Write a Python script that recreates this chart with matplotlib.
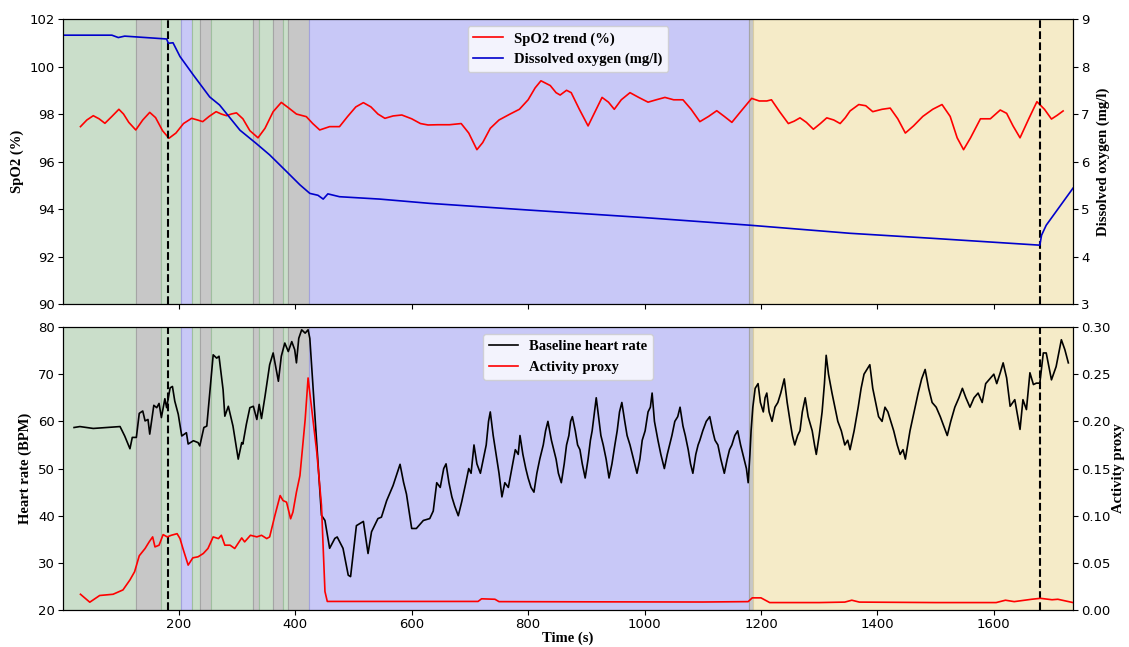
import numpy as np
import matplotlib
matplotlib.use('Agg')
import matplotlib.pyplot as plt

# SpO2 trend (left axis, top)
spo2_t = [31, 42, 53, 63, 73, 85, 97, 105, 114, 126, 138, 150, 160, 172, 183, 195, 208, 222, 232,
          241, 252, 264, 273, 282, 290, 299, 310, 322, 336, 348, 362, 376, 389, 402, 419, 430, 442,
          459, 476, 490, 504, 517, 530, 542, 554, 568, 583, 600, 615, 628, 645, 665, 685, 698, 712,
          722, 735, 750, 769, 785, 800, 812, 822, 838, 848, 855, 866, 874, 888, 903, 915, 927, 938,
          948, 960, 975, 990, 1006, 1020, 1035, 1050, 1066, 1080, 1095, 1110, 1124, 1137, 1150,
          1165, 1184, 1197, 1210, 1218, 1232, 1247, 1257, 1267, 1278, 1290, 1302, 1313, 1325, 1336,
          1345, 1353, 1368, 1380, 1392, 1408, 1422, 1435, 1448, 1462, 1478, 1495, 1511, 1525, 1537,
          1548, 1560, 1577, 1594, 1611, 1622, 1633, 1645, 1660, 1674, 1687, 1699, 1709, 1719]
spo2_v = [97.47, 97.75, 97.93, 97.8, 97.61, 97.9, 98.2, 98.0, 97.65, 97.33, 97.75, 98.07, 97.85,
          97.3, 96.98, 97.2, 97.6, 97.82, 97.75, 97.68, 97.9, 98.1, 98.0, 97.93, 98.0, 98.05, 97.8,
          97.3, 97.0, 97.4, 98.1, 98.49, 98.25, 98.0, 97.89, 97.6, 97.33, 97.47, 97.47, 97.9, 98.3,
          98.48, 98.3, 98.0, 97.82, 97.92, 97.96, 97.8, 97.6, 97.54, 97.55, 97.55, 97.6, 97.2, 96.5,
          96.8, 97.4, 97.75, 98.0, 98.2, 98.6, 99.1, 99.4, 99.2, 98.9, 98.8, 99.0, 98.9, 98.2, 97.5,
          98.1, 98.7, 98.5, 98.2, 98.6, 98.9, 98.7, 98.5, 98.6, 98.7, 98.6, 98.6, 98.2, 97.68, 97.9,
          98.14, 97.9, 97.65, 98.1, 98.66, 98.55, 98.55, 98.6, 98.1, 97.6, 97.7, 97.84, 97.65,
          97.36, 97.6, 97.84, 97.75, 97.6, 97.85, 98.13, 98.4, 98.35, 98.1, 98.2, 98.25, 97.8,
          97.2, 97.5, 97.9, 98.2, 98.4, 97.9, 97.0, 96.5, 97.0, 97.8, 97.8, 98.17, 98.03, 97.5,
          97.0, 97.8, 98.52, 98.2, 97.79, 97.95, 98.13]

# dissolved oxygen (right axis, top)
do_t = [1, 85, 96, 107, 167, 179, 182, 190, 202, 225, 253, 270, 305, 333, 356, 385, 408, 425,
        439, 448, 456, 476, 545, 631, 800, 1000, 1181, 1353, 1500, 1679, 1682, 1690, 1736]
do_v = [8.66, 8.66, 8.61, 8.64, 8.59, 8.58, 8.49, 8.50, 8.21, 7.82, 7.36, 7.19, 6.66, 6.38, 6.14,
        5.79, 5.51, 5.33, 5.29, 5.21, 5.32, 5.26, 5.21, 5.12, 4.98, 4.82, 4.66, 4.49, 4.38, 4.24,
        4.45, 4.66, 5.44]

# baseline heart rate (left axis, bottom)
hr_t = [20, 30, 53, 99, 107, 116, 120, 127, 132, 138, 142, 147, 150, 157, 162, 166, 170, 176,
        179, 185, 189, 193, 199, 205, 213, 216, 225, 233, 236, 243, 248, 259, 265, 269, 276, 279,
        285, 293, 302, 308, 310, 316, 322, 328, 334, 338, 342, 348, 356, 362, 371, 376, 382, 388,
        394, 399, 402, 406, 411, 417, 422, 425, 445, 451, 459, 468, 472, 482, 491, 495, 505, 517,
        525, 531, 542, 548, 557, 568, 580, 586, 591, 600, 608, 620,
        631, 637, 643, 649, 655, 659, 664, 669, 674, 680, 686, 693, 698, 702, 707, 712, 718, 723,
        728, 732, 735, 740, 745, 750, 755, 760, 766, 772, 778, 783, 786, 791, 796, 800, 805, 810,
        815, 820, 826, 830, 834, 840, 844, 848, 852, 857, 862, 866, 870, 873, 876, 881, 885, 889,
        893, 898, 903, 907, 910, 914, 917, 921, 925, 929, 934, 939, 944, 949, 953, 957, 961, 966,
        970, 975, 981, 987, 992, 996, 1001, 1006, 1010, 1013, 1017, 1020, 1023, 1028, 1034, 1039,
        1043, 1047, 1052, 1057, 1061, 1066, 1070, 1075, 1079, 1083, 1088, 1092, 1095, 1100, 1106,
        1112, 1117, 1121, 1126, 1131, 1137, 1142, 1146, 1150, 1155, 1160, 1165, 1171, 1175, 1178,
        1181, 1183,
        1186, 1190, 1195, 1199, 1204, 1207, 1210, 1214, 1219, 1224, 1229, 1234, 1240, 1245, 1250,
        1254, 1258, 1263, 1267, 1271, 1276, 1281, 1288, 1292, 1295, 1300, 1305, 1309, 1312, 1316,
        1322, 1327, 1332, 1338, 1344, 1349, 1353, 1360, 1367, 1372, 1377, 1382, 1387, 1392, 1397,
        1402, 1408, 1413, 1418, 1423, 1428, 1434, 1439, 1444, 1448, 1452, 1456, 1463, 1470, 1476,
        1482, 1488, 1494, 1501, 1508, 1514, 1520, 1526, 1533, 1540, 1546, 1552, 1559, 1566, 1573,
        1580, 1586, 1593, 1600, 1605,
        1611, 1616, 1622, 1628, 1636, 1642, 1645, 1650, 1656, 1662, 1668, 1673, 1679, 1685, 1690,
        1699, 1707, 1716, 1722, 1728]
hr_v = [58.7, 58.9, 58.5, 58.9, 56.9, 54.2, 56.6, 56.6, 61.7, 62.2, 60.1, 60.4, 57.3, 63.4, 62.9,
        63.8, 60.8, 64.8, 62.9, 67.1, 67.4, 64.3, 61.5, 56.9, 57.6, 55.2, 55.9, 55.5, 54.8, 58.7,
        59.0, 74.1, 73.4, 73.8, 66.7, 61.1, 63.2, 59.0, 52.0, 55.5, 55.2, 59.4, 62.9, 63.2, 60.4,
        63.6, 60.6, 65.3, 72.0, 74.5, 68.5, 73.8, 76.6, 74.8, 76.9, 75.2, 72.4, 77.6, 79.4, 78.7,
        79.4, 77.6, 40.1, 39.0, 33.1, 35.2, 35.5, 33.1, 27.4, 27.1, 37.9, 38.8, 32.0, 36.6, 39.4,
        39.7, 43.2, 46.4, 50.9, 47.1, 44.6, 37.3, 37.3, 39.0,
        39.4, 41, 47, 46, 50, 51, 47, 44, 42, 40, 43, 47, 50, 49, 55, 51, 49, 52, 55, 60, 62, 57, 53,
        49, 44, 47, 46, 50, 54, 53, 57, 53, 50, 48, 46, 45, 49, 52, 55, 58, 60, 56, 54, 52, 49, 47,
        51, 55, 57, 60, 61, 58, 55, 54, 51, 48, 52, 56, 58, 62, 65, 61, 57, 55, 52, 48, 51, 55, 58,
        62, 64, 60, 57, 55, 52, 49, 52, 56, 58, 62, 63, 66, 60, 58, 56, 53, 50, 53, 55, 57, 60, 61,
        63, 59, 57, 54, 51, 49, 53, 55, 56, 58, 60, 61, 58, 56, 55, 52, 49, 52, 54, 55, 57, 58, 55,
        52, 50, 47, 53, 58,
        63, 67, 68, 64, 62, 65, 66, 62, 60, 63, 64, 66, 69, 64, 60, 57, 55, 57, 58, 62, 65, 61, 58,
        55, 53, 57, 62, 68, 74, 70, 66, 63, 60, 58, 55, 56, 54, 58, 63, 67, 70, 71, 72, 67, 64, 61,
        60, 63, 62, 60, 58, 55, 53, 54, 52, 55, 58, 62, 66, 69, 71, 67, 64, 63, 61, 59, 57, 60, 63,
        65, 67, 65, 63, 65, 66, 64, 68, 69, 70, 68,
        70.3, 72.4, 69.2, 63.2, 64.6, 60.4, 58.3, 64.6, 62.5, 70.3, 67.8, 68.1, 68.1, 74.5, 74.5,
        68.8, 71.6, 77.3, 75.2, 72.4]

# activity proxy (right axis, bottom)
act_t = [31, 47, 64, 87, 104, 116, 124, 132, 142, 149, 155, 159, 166, 173, 180, 187, 197, 202,
         207, 216, 224, 233, 242, 250, 259, 268, 273, 279, 288, 296, 308, 313, 323, 334, 342, 351,
         356, 365, 374, 379, 385, 392, 396, 402, 408, 417, 422, 437, 445, 451, 455, 600, 714, 720,
         743, 750, 900, 1100, 1178, 1185, 1200, 1215, 1300, 1344, 1356, 1369, 1500, 1604, 1620,
         1635, 1665, 1680, 1700, 1710, 1736]
act_v = [0.0168, 0.0084, 0.0155, 0.0168, 0.0214, 0.032, 0.0407, 0.0576, 0.0653, 0.0723, 0.0776,
         0.067, 0.0688, 0.08, 0.0776, 0.0793, 0.081, 0.0758, 0.0653, 0.0477, 0.0554, 0.0565, 0.06,
         0.0653, 0.0776, 0.0758, 0.0793, 0.0688, 0.0688, 0.0653, 0.0765, 0.0723, 0.0793, 0.0776,
         0.0793, 0.0758, 0.0776, 0.1003, 0.1214, 0.1161, 0.1144, 0.0968, 0.1039, 0.125, 0.1425,
         0.202, 0.246, 0.167, 0.111, 0.0197, 0.0092, 0.0092, 0.0092, 0.012, 0.0115, 0.009, 0.0088,
         0.0086, 0.009, 0.013, 0.013, 0.008, 0.008, 0.0085, 0.0105, 0.0085, 0.008, 0.008, 0.0105,
         0.009, 0.0115, 0.0125, 0.011, 0.0115, 0.008]

# behavioural segments (start, end, state)
seg_start = [0, 126, 170, 203, 223, 236, 255, 328, 337, 361, 379, 387, 424, 1180, 1187]
seg_end = [126, 170, 203, 223, 236, 255, 328, 337, 361, 379, 387, 424, 1180, 1187, 1736]
seg_state = ['g', 'k', 'g', 'b', 'g', 'k', 'g', 'k', 'g', 'k', 'g', 'k', 'b', 'k', 'y']
events = [181, 1679]

face = {'g': '#cadeca', 'k': '#c7c7c7', 'b': '#c8c8f7', 'y': '#f5ebc8'}
edge = {'g': '#9fbf9f', 'k': '#a5a5a5', 'b': '#a2a2dc', 'y': '#d9cda3'}

plt.rcParams['font.family'] = 'DejaVu Sans'
lab = {'family': 'Liberation Serif', 'weight': 'bold', 'size': 10.5}
leg = {'family': 'Liberation Serif', 'weight': 'bold', 'size': 10.5}

fig = plt.figure(figsize=(11.29, 6.47), dpi=100)
ax1 = fig.add_axes([0.0558, 0.530, 0.8946, 0.4406])
ax2 = fig.add_axes([0.0558, 0.057, 0.8946, 0.4376], sharex=ax1)

for ax in [ax1, ax2]:
    for s0, s1, st in zip(seg_start, seg_end, seg_state):
        ax.axvspan(s0, s1, facecolor=face[st], edgecolor=edge[st], linewidth=0.8, zorder=0)
    for e in events:
        ax.axvline(e, color='black', linestyle='--', linewidth=1.5, zorder=3)

ax1r = ax1.twinx()
l1, = ax1.plot(spo2_t, spo2_v, color='red', linewidth=1.2, label='SpO2 trend (%)')
l2, = ax1r.plot(do_t, do_v, color='#0000cc', linewidth=1.2, label='Dissolved oxygen (mg/l)')
ax1.set_ylim(90, 102)
ax1r.set_ylim(3, 9)
ax1.set_ylabel('SpO2 (%)', fontdict=lab)
ax1r.set_ylabel('Dissolved oxygen (mg/l)', fontdict=lab, labelpad=5)
ax1r.legend([l1, l2], [l1.get_label(), l2.get_label()], loc='upper center', prop=leg)
plt.setp(ax1.get_xticklabels(), visible=False)

ax2r = ax2.twinx()
l3, = ax2.plot(hr_t, hr_v, color='black', linewidth=1.2, label='Baseline heart rate')
l4, = ax2r.plot(act_t, act_v, color='red', linewidth=1.2, label='Activity proxy')
ax2.set_ylim(20, 80)
ax2r.set_ylim(0, 0.3)
ax2r.set_yticks([0, 0.05, 0.1, 0.15, 0.2, 0.25, 0.3])
ax2r.set_yticklabels(['%.2f' % v for v in [0, 0.05, 0.1, 0.15, 0.2, 0.25, 0.3]])
ax2.set_ylabel('Heart rate (BPM)', fontdict=lab)
ax2r.set_ylabel('Activity proxy', fontdict=lab, labelpad=1)
ax2.set_xlabel('Time (s)', fontdict=lab, labelpad=0)
ax2r.legend([l3, l4], [l3.get_label(), l4.get_label()], loc='upper center', prop=leg)

ax1.set_xlim(1, 1736)
ax1.set_xticks([200, 400, 600, 800, 1000, 1200, 1400, 1600])
for ax in [ax1, ax1r, ax2, ax2r]:
    ax.tick_params(labelsize=9.5, pad=2.5)

fig.savefig('out.png', dpi=100)
